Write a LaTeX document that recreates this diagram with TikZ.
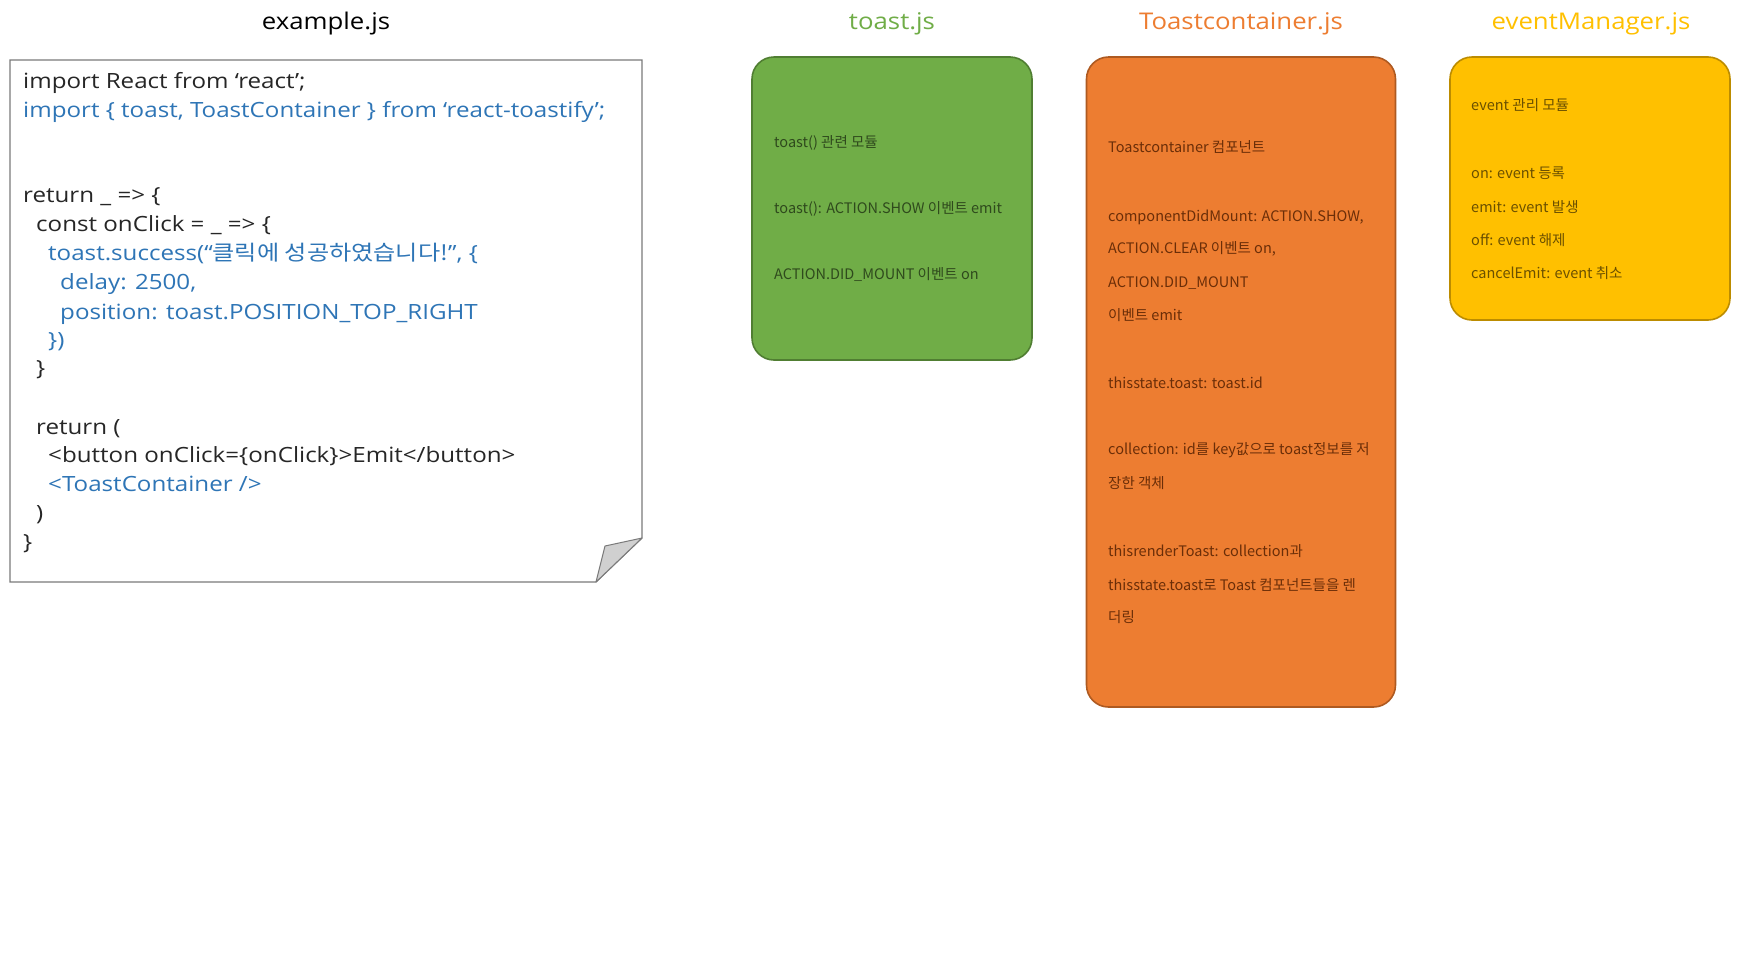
\documentclass[tikz,border=0pt]{standalone}
\usepackage{fontspec}
\setmainfont{Open Sans}
\newfontfamily\kr{Noto Sans CJK KR}
\newfontfamily\codefont{Open Sans}[FakeStretch=1.15]
\newfontfamily\codekr{Noto Sans CJK KR}[FakeStretch=1.15]
\newfontfamily\titlefont{Open Sans}[FakeStretch=1.12]
\definecolor{codeblue}{HTML}{2E75B6}
\definecolor{codeblack}{HTML}{262626}
\definecolor{gfill}{HTML}{70AD47}
\definecolor{gline}{HTML}{507E32}
\definecolor{gtext}{HTML}{2F4A1D}
\definecolor{ofill}{HTML}{ED7D31}
\definecolor{oline}{HTML}{AE5A21}
\definecolor{otext}{HTML}{6B2E08}
\definecolor{yfill}{HTML}{FFC000}
\definecolor{yline}{HTML}{BC8C00}
\definecolor{ytext}{HTML}{6B5000}
\definecolor{frame}{HTML}{7A7A7A}
\definecolor{foldgray}{HTML}{D0D0D0}
\begin{document}
\begin{tikzpicture}[x=1pt,y=-1pt,
  title/.style={font=\titlefont\fontsize{23}{27}\selectfont, anchor=center, inner sep=0pt},
  code/.style={font=\codefont\fontsize{21}{25}\selectfont, anchor=base west, inner sep=0pt, text=codeblack},
  codeb/.style={code, text=codeblue},
  card/.style={draw, line width=1.6pt, rounded corners=22pt, minimum width=#1, inner sep=0pt},
  note/.style={font=\kr\fontsize{14.5}{17}\selectfont, anchor=base west, inner sep=0pt}
]
\useasboundingbox (0,0) rectangle (1740,978);
\fill[white] (0,0) rectangle (1740,978);

% titles
\node[title, text=black] (t1) at (326,24) {example.js};
\node[title, text=gfill] (t2) at (892,24) {toast.js};
\node[title, text=ofill] (t3) at (1241,24) {Toastcontainer.js};
\node[title, text=yfill] (t4) at (1591,24) {eventManager.js};

% example code sheet
\draw[frame, line width=1.2pt, fill=white] (10,60) -- (642,60) -- (642,538) -- (596,582) -- (10,582) -- cycle;
\filldraw[draw=frame, fill=foldgray, line width=1pt, line join=round] (596,582) -- (605,546) -- (642,538) -- cycle;

\node[code]  (c1)  at (23,88)  {import React from ‘react’;};
\node[codeb] (c2)  at (23,117) {import \{ toast, ToastContainer \} from ‘react-toastify’;};
\node[code]  (c5)  at (23,202) {return \_ => \{};
\node[code]  (c6)  at (36,231) {const onClick = \_ => \{};
\node[codeb] (c7)  at (48,260) {toast.success(“{\codekr 클릭에 성공하였습니다!}”, \{};
\node[codeb] (c8)  at (60,289) {delay: 2500,};
\node[codeb] (c9)  at (60,319) {position: toast.POSITION\_TOP\_RIGHT};
\node[codeb] (c10) at (48,347) {\})};
\node[code]  (c11) at (36,375) {\}};
\node[code]  (c13) at (36,434) {return (};
\node[code]  (c14) at (48,462) {<button onClick=\{onClick\}>Emit</button>};
\node[codeb] (c15) at (48,491) {<ToastContainer />};
\node[code]  (c16) at (36,520) {)};
\node[code]  (c17) at (23,549) {\}};

% toast.js card
\node[card=280pt, fill=gfill, draw=gline, minimum height=303pt] (toastcard) at (892,208.5) {};
\node[note, text=gtext] (g1) at (774,147) {toast() 관련 모듈};
\node[note, text=gtext] (g2) at (774,213) {toast(): ACTION.SHOW 이벤트 emit};
\node[note, text=gtext] (g3) at (774,279) {ACTION.DID\_MOUNT 이벤트 on};

% ToastContainer card
\node[card=309pt, fill=ofill, draw=oline, minimum height=650pt] (containercard) at (1241,382) {};
\node[note, text=otext] (o1)  at (1108,152) {Toastcontainer 컴포넌트};
\node[note, text=otext] (o2)  at (1108,221) {componentDidMount: ACTION.SHOW,};
\node[note, text=otext] (o3)  at (1108,253) {ACTION.CLEAR 이벤트 on,};
\node[note, text=otext] (o4)  at (1108,287) {ACTION.DID\_MOUNT};
\node[note, text=otext] (o5)  at (1108,320) {이벤트 emit};
\node[note, text=otext] (o6)  at (1108,388) {thisstate.toast: toast.id};
\node[note, text=otext] (o7)  at (1108,454) {collection: id를 key값으로 toast정보를 저};
\node[note, text=otext] (o8)  at (1108,488) {장한 객체};
\node[note, text=otext] (o9)  at (1108,556) {thisrenderToast: collection과};
\node[note, text=otext] (o10) at (1108,590) {thisstate.toast로 Toast 컴포넌트들을 렌};
\node[note, text=otext] (o11) at (1108,622) {더링};

% eventManager card
\node[card=280pt, fill=yfill, draw=yline, minimum height=263pt] (eventcard) at (1590,188.5) {};
\node[note, text=ytext] (y1) at (1471,110) {event 관리 모듈};
\node[note, text=ytext] (y2) at (1471,178) {on: event 등록};
\node[note, text=ytext] (y3) at (1471,212) {emit: event 발생};
\node[note, text=ytext] (y4) at (1471,245) {off: event 해제};
\node[note, text=ytext] (y5) at (1471,278) {cancelEmit: event 취소};
\end{tikzpicture}
\end{document}
